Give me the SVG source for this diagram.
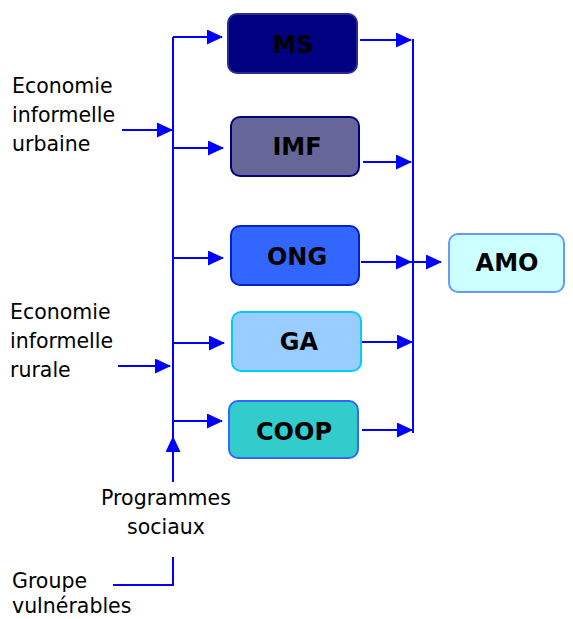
<svg xmlns="http://www.w3.org/2000/svg" width="573" height="619" viewBox="0 0 573 619">
  <style>
    .box { stroke-width: 2; }
    .lbl { font-family: "DejaVu Sans", Verdana, sans-serif; font-size: 24px; font-weight: bold; fill: #000; text-anchor: middle; }
    .txt { font-family: "DejaVu Sans", Verdana, sans-serif; font-size: 20.5px; fill: #000; }
    .ln { stroke: #0000FF; stroke-width: 2; fill: none; }
  </style>
  <defs>
    <marker id="ah" markerWidth="16" markerHeight="15" refX="15" refY="7.5" orient="auto" markerUnits="userSpaceOnUse">
      <path d="M0,0 L16,7.5 L0,15 Z" fill="#0000FF"/>
    </marker>
  </defs>
  <rect width="573" height="619" fill="#fff"/>

  <g id="connectors">
    <!-- left bus -->
    <path class="ln" d="M173,37 V482"/>
    <path class="ln" d="M173,482 V437" marker-end="url(#ah)"/>
    <!-- feeds into boxes -->
    <path class="ln" d="M173,37 H222" marker-end="url(#ah)"/>
    <path class="ln" d="M173,148 H223" marker-end="url(#ah)"/>
    <path class="ln" d="M173,258 H223" marker-end="url(#ah)"/>
    <path class="ln" d="M173,343 H224" marker-end="url(#ah)"/>
    <path class="ln" d="M173,421 H222" marker-end="url(#ah)"/>
    <!-- external inputs -->
    <path class="ln" d="M122,130 H172" marker-end="url(#ah)"/>
    <path class="ln" d="M118,366 H170" marker-end="url(#ah)"/>
    <path class="ln" d="M113,585 H173 V557"/>
    <!-- right bus -->
    <path class="ln" d="M413,39 V433"/>
    <path class="ln" d="M360,40 H411" marker-end="url(#ah)"/>
    <path class="ln" d="M363,162 H411" marker-end="url(#ah)"/>
    <path class="ln" d="M361,262 H411" marker-end="url(#ah)"/>
    <path class="ln" d="M362,342 H412" marker-end="url(#ah)"/>
    <path class="ln" d="M362,430 H412" marker-end="url(#ah)"/>
    <path class="ln" d="M411,262 H441" marker-end="url(#ah)"/>
  </g>

  <g id="ms">
    <rect class="box" x="228" y="14" width="129" height="59" rx="9" fill="#000080" stroke="#2A2A8F"/>
    <text class="lbl" x="293" y="53">MS</text>
  </g>
  <g id="imf">
    <rect class="box" x="231" y="117" width="128" height="59" rx="9" fill="#666699" stroke="#000080"/>
    <text class="lbl" x="297" y="155">IMF</text>
  </g>
  <g id="ong">
    <rect class="box" x="231" y="226" width="128" height="59" rx="9" fill="#3366FF" stroke="#0022CC"/>
    <text class="lbl" x="297" y="265">ONG</text>
  </g>
  <g id="ga">
    <rect class="box" x="232" y="312" width="129" height="59" rx="9" fill="#99CCFF" stroke="#00CCFF"/>
    <text class="lbl" x="299" y="350">GA</text>
  </g>
  <g id="coop">
    <rect class="box" x="229" y="401" width="129" height="57" rx="9" fill="#33CCCC" stroke="#3366FF"/>
    <text class="lbl" x="294" y="440">COOP</text>
  </g>
  <g id="amo">
    <rect class="box" x="449" y="234" width="115" height="58" rx="9" fill="#CCFFFF" stroke="#6699FF"/>
    <text class="lbl" x="507" y="271">AMO</text>
  </g>

  <g id="urbaine">
    <text class="txt" x="12" y="93">Economie</text>
    <text class="txt" x="12" y="122">informelle</text>
    <text class="txt" x="12" y="151">urbaine</text>
  </g>
  <g id="rurale">
    <text class="txt" x="10" y="319">Economie</text>
    <text class="txt" x="10" y="348">informelle</text>
    <text class="txt" x="10" y="377">rurale</text>
  </g>
  <g id="programmes">
    <text class="txt" x="166" y="505" text-anchor="middle">Programmes</text>
    <text class="txt" x="166" y="534" text-anchor="middle">sociaux</text>
  </g>
  <g id="groupe">
    <text class="txt" x="12" y="588">Groupe</text>
    <text class="txt" x="12" y="613">vulnérables</text>
  </g>
</svg>
